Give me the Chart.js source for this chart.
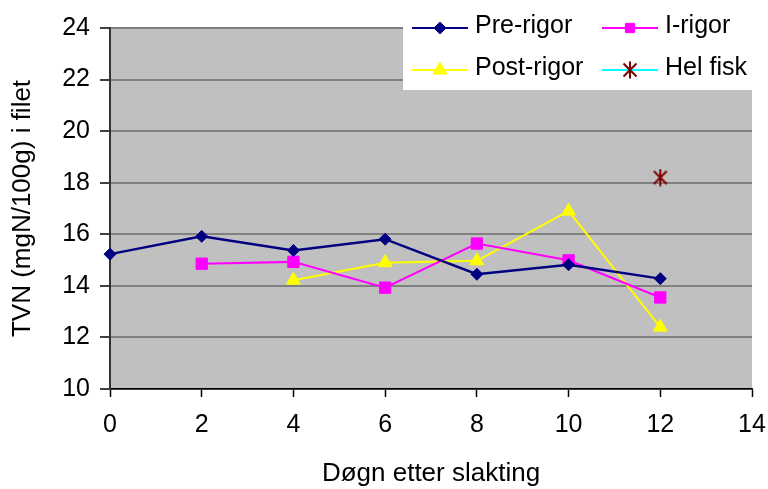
<!DOCTYPE html>
<html>
<head>
<meta charset="utf-8">
<script src="https://cdn.jsdelivr.net/npm/chart.js@4/dist/chart.umd.min.js"></script>
<style>
  html, body { margin: 0; padding: 0; background: #ffffff; }
  #wrap { width: 768px; height: 489px; }
</style>
</head>
<body>
<div id="wrap"><canvas id="c" width="768" height="489"></canvas></div>
<script>
// TVN in fillet, by days after slaughter
const days      = [0, 2, 4, 6, 8, 10, 12];
const preRigor  = [15.23, 15.92, 15.37, 15.81, 14.45, 14.82, 14.28];
const iRigor    = [null, 14.86, 14.93, 13.93, 15.64, 14.99, 13.55];
const postRigor = [null, null, 14.22, 14.90, 14.97, 16.90, 12.40];
const helFisk   = [null, null, null, null, null, null, 18.20];

const seriesNames = ['Pre-rigor', 'I-rigor', 'Post-rigor', 'Hel fisk'];
const xAxisTitle = 'Døgn etter slakting';
const yAxisTitle = 'TVN (mgN/100g) i filet';

const FONT = '"Liberation Sans", Arial, Helvetica, sans-serif';

function toPoints(values) {
  return days.map((d, i) => ({ x: d, y: values[i] })).filter(p => p.y !== null);
}

// Asterisk-style marker: an X with a vertical stroke
function makeStarMarker(color) {
  const cv = document.createElement('canvas');
  cv.width = 16; cv.height = 18;
  const g = cv.getContext('2d');
  g.strokeStyle = color;
  g.lineWidth = 2;
  g.beginPath();
  g.moveTo(1.5, 2.5); g.lineTo(14.5, 15.5);
  g.moveTo(14.5, 2.5); g.lineTo(1.5, 15.5);
  g.moveTo(8, 0.5); g.lineTo(8, 17.5);
  g.stroke();
  return cv;
}
const starMarker = makeStarMarker('#800000');

const datasets = [
  {
    label: seriesNames[0], data: toPoints(preRigor),
    borderColor: '#000080', backgroundColor: '#000080', borderWidth: 2.5,
    pointStyle: 'rectRot', pointRadius: 6, pointBorderWidth: 1,
    pointBorderColor: '#000080', pointBackgroundColor: '#000080'
  },
  {
    label: seriesNames[1], data: toPoints(iRigor),
    borderColor: '#FF00FF', backgroundColor: '#FF00FF', borderWidth: 2,
    pointStyle: 'rect', pointRadius: 8, pointBorderWidth: 1,
    pointBorderColor: '#FF00FF', pointBackgroundColor: '#FF00FF'
  },
  {
    label: seriesNames[2], data: toPoints(postRigor),
    borderColor: '#FFFF00', backgroundColor: '#FFFF00', borderWidth: 2,
    pointStyle: 'triangle', pointRadius: 8, pointBorderWidth: 1,
    pointBorderColor: '#FFFF00', pointBackgroundColor: '#FFFF00'
  },
  {
    label: seriesNames[3], data: toPoints(helFisk),
    borderColor: '#00FFFF', backgroundColor: '#800000', borderWidth: 2,
    pointStyle: starMarker, pointRadius: 8
  }
];
datasets.forEach(ds => { ds.clip = false; ds.tension = 0; ds.fill = false; });

const plotBackground = {
  id: 'plotBackground',
  beforeDraw(chart) {
    const { ctx, chartArea: a } = chart;
    ctx.save();
    ctx.fillStyle = '#C0C0C0';
    ctx.fillRect(a.left, a.top, a.right - a.left, a.bottom - a.top);
    ctx.restore();
  }
};

// Two-column legend box in the upper right corner
const boxLegend = {
  id: 'boxLegend',
  afterDraw(chart) {
    const ctx = chart.ctx;
    ctx.save();
    ctx.fillStyle = '#ffffff';
    ctx.fillRect(403, 0, 350, 90);
    const cols = [412, 602];
    const rows = [28, 70];
    chart.data.datasets.forEach((ds, i) => {
      const x0 = cols[i % 2];
      const y = rows[Math.floor(i / 2)];
      ctx.strokeStyle = ds.borderColor;
      ctx.lineWidth = 2;
      ctx.beginPath();
      ctx.moveTo(x0, y); ctx.lineTo(x0 + 56, y);
      ctx.stroke();
      const opts = {
        pointStyle: ds.pointStyle,
        radius: ds.pointStyle === 'rect' ? 6.5 : (ds.pointRadius || 6),
        rotation: 0,
        borderWidth: ds.pointBorderWidth || 1
      };
      ctx.fillStyle = ds.pointBackgroundColor || ds.backgroundColor;
      ctx.strokeStyle = ds.pointBorderColor || ds.borderColor;
      ctx.lineWidth = opts.borderWidth;
      Chart.helpers.drawPoint(ctx, opts, x0 + 28, y);
      ctx.fillStyle = '#000000';
      ctx.font = '25px ' + FONT;
      ctx.textAlign = 'left';
      ctx.textBaseline = 'middle';
      ctx.fillText(ds.label, x0 + 63, y - 2);
    });
    ctx.restore();
  }
};

new Chart(document.getElementById('c'), {
  type: 'line',
  data: { datasets },
  plugins: [plotBackground, boxLegend],
  options: {
    responsive: false,
    animation: false,
    devicePixelRatio: 1,
    layout: { padding: { top: 28, right: 16, bottom: 0, left: 0 } },
    plugins: { legend: { display: false }, tooltip: { enabled: false } },
    scales: {
      x: {
        type: 'linear', min: 0, max: 14,
        ticks: { stepSize: 2, color: '#000', font: { family: FONT, size: 25 }, padding: 13, maxRotation: 0 },
        grid: { drawOnChartArea: false, drawTicks: true, tickLength: 8, tickColor: '#000', tickWidth: 1.5 },
        border: { color: '#000', width: 1.5 },
        title: { display: true, text: xAxisTitle, color: '#000', font: { family: FONT, size: 26 }, padding: { top: 0, bottom: 0 } },
        afterFit(s) { s.height = 100; s.paddingLeft = 0; s.paddingRight = 0; }
      },
      y: {
        min: 10, max: 24,
        ticks: { stepSize: 2, color: '#000', font: { family: FONT, size: 25 }, padding: 10 },
        grid: { color: '#808080', lineWidth: 2, drawTicks: true, tickLength: 10, tickColor: '#000', tickWidth: 1.5 },
        border: { color: '#333', width: 2 },
        title: { display: true, text: yAxisTitle, color: '#000', font: { family: FONT, size: 26 }, padding: { top: 7, bottom: 0 } },
        afterFit(s) { s.width = 110; s.paddingTop = 0; s.paddingBottom = 0; }
      }
    }
  }
});
</script>
</body>
</html>
